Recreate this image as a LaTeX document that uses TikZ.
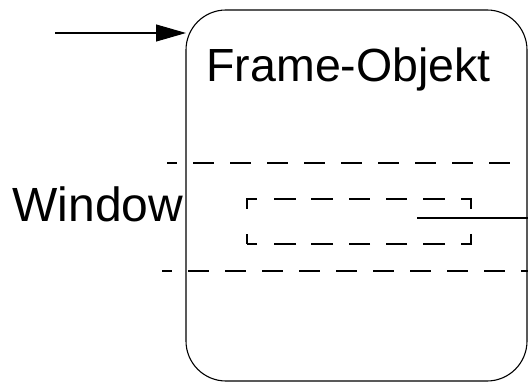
\documentclass[tikz,border=0pt]{standalone}
\usepackage{fontspec}
\setmainfont{Liberation Sans}
\usetikzlibrary{arrows.meta}
\begin{document}
\begin{tikzpicture}[x=1pt,y=-1pt,line width=1.1pt,
    frame/.style={draw,rounded corners=40pt,minimum width=341pt,minimum height=371pt,inner sep=0pt,outer sep=0pt},
    cut/.style={dash pattern=on 21pt off 16pt,dash phase=11pt},
    slotdash/.style={dash pattern=on 10pt off 25pt on 20pt off 17pt on 22pt off 15pt
      on 22pt off 16pt on 21pt off 16pt on 21pt off 16pt on 22pt off 16pt
      on 20pt off 25pt on 20pt off 16pt on 22pt off 16pt on 21pt off 16pt
      on 21pt off 16pt on 22pt off 15pt on 22pt off 17pt on 10pt off 1pt},
    big/.style={font=\fontsize{46.5}{50}\selectfont,inner sep=0pt}]
  \useasboundingbox (0,0) rectangle (528,382);
  \node[frame] (frame) at (356.5,195.5) {};
  \node[big,anchor=base west] (title) at (206,82) {Frame-Objekt};
  \node[big,font=\fontsize{48}{52}\selectfont,anchor=base west] (window) at (12,222) {Window};
  \node[minimum width=224pt,minimum height=45pt,inner sep=0pt,outer sep=0pt] (slot) at (359,221.5) {};
  \coordinate (in) at (55,33);
  \coordinate (top0) at (167,163);
  \coordinate (top1) at (514,163);
  \coordinate (bot0) at (162,271);
  \coordinate (bot1) at (528,271);
  \coordinate (tap) at (417,218);
  \coordinate (out) at (528,218);
  \draw[-{Triangle[length=30pt,width=17pt]}] (in) -- (in -| frame.west);
  \draw[slotdash] (slot.south west) -- (slot.north west) -- (slot.north east)
    -- (slot.south east) -- cycle;
  \begin{scope}[cut]
    \draw (top0) -- (top1);
    \draw (bot0) -- (bot1);
  \end{scope}
  \draw (tap) -- (out);
\end{tikzpicture}
\end{document}
